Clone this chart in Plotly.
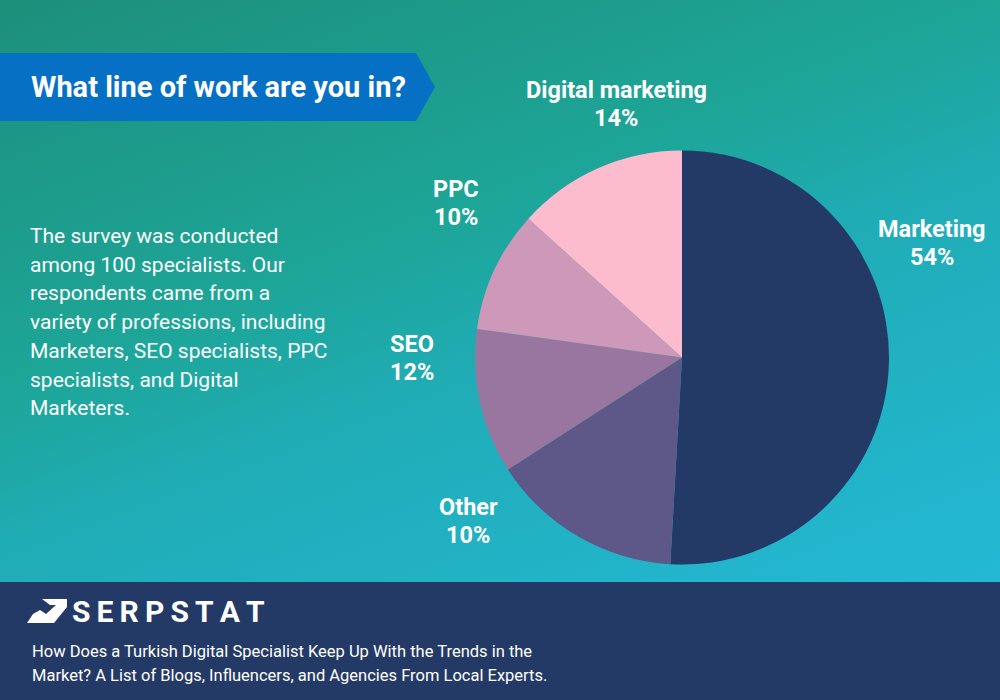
import base64
import plotly.graph_objects as go

# ---- data ----
categories = ["Marketing", "Other", "SEO", "PPC", "Digital marketing"]
slice_sizes = [50.9, 15.0, 11.3, 9.5, 13.3]          # drawn slice sizes (as measured)
label_pcts = ["54%", "10%", "12%", "10%", "14%"]      # printed percentages
slice_colors = ["#243A66", "#5E5888", "#98769F", "#CE98B8", "#FDBCCE"]

title_text = "What line of work are you in?"
body_lines = [
    "The survey was conducted",
    "among 100 specialists. Our",
    "respondents came from a",
    "variety of professions, including",
    "Marketers, SEO specialists, PPC",
    "specialists, and Digital",
    "Marketers.",
]
footer_lines = [
    "How Does a Turkish Digital Specialist Keep Up With the Trends in the",
    "Market? A List of Blogs, Influencers, and Agencies From Local Experts.",
]

W, H = 1000, 700

def px(x):
    return x / W

def py(y):
    return 1 - y / H

# gradient background as svg image
svg = f"""<svg xmlns='http://www.w3.org/2000/svg' width='{W}' height='{H}'>
<defs><linearGradient id='g' gradientUnits='userSpaceOnUse' x1='0' y1='0' x2='320' y2='835'>
<stop offset='0' stop-color='#1D8F7B'/>
<stop offset='0.4' stop-color='#1DA597'/>
<stop offset='0.6' stop-color='#20ADB8'/>
<stop offset='1' stop-color='#23B8D4'/>
</linearGradient></defs>
<rect width='{W}' height='{H}' fill='url(#g)'/></svg>"""
bg_src = "data:image/svg+xml;base64," + base64.b64encode(svg.encode()).decode()

fig = go.Figure()
fig.add_trace(go.Pie(
    labels=categories,
    values=slice_sizes,
    sort=False,
    direction="clockwise",
    rotation=0,
    marker=dict(colors=slice_colors, line=dict(width=0)),
    textinfo="none",
    hoverinfo="label",
    showlegend=False,
    domain=dict(x=[px(475), px(889)], y=[py(565), py(150)]),
))

shapes = []
# banner arrow
shapes.append(dict(type="path", xref="paper", yref="paper",
                   path=f"M 0 {py(53)} L {px(416)} {py(53)} L {px(435)} {py(87)} L {px(416)} {py(121)} L 0 {py(121)} Z",
                   fillcolor="#0670C5", line=dict(width=0), layer="below"))
# footer
shapes.append(dict(type="rect", xref="paper", yref="paper",
                   x0=0, x1=1, y0=0, y1=py(582),
                   fillcolor="#243A66", line=dict(width=0), layer="below"))
# logo icon
shapes.append(dict(type="path", xref="paper", yref="paper",
                   path=(f"M {px(42)} {py(599)} L {px(67)} {py(599)} L {px(67)} {py(607)} "
                         f"L {px(54)} {py(623)} L {px(27)} {py(623)} "
                         f"L {px(33)} {py(614)} L {px(40)} {py(610)} L {px(46)} {py(614)} L {px(56)} {py(605)} L {px(50)} {py(605)} Z"),
                   fillcolor="white", line=dict(width=0)))

annotations = []
annotations.append(dict(text=title_text, x=px(29), y=py(87), xref="paper", yref="paper",
                        xanchor="left", yanchor="middle", showarrow=False,
                        font=dict(family="Roboto", size=29, color="white", weight="bold")))
for i, line in enumerate(body_lines):
    annotations.append(dict(text=line, x=px(28), y=py(236 + i * 28.7), xref="paper", yref="paper",
                            xanchor="left", yanchor="middle", showarrow=False,
                            font=dict(family="Roboto", size=21, color="white")))

label_pos = {"Marketing": (932, 229), "Other": (468, 507), "SEO": (412, 344),
             "PPC": (456, 189), "Digital marketing": (616, 90)}
lab_font = dict(family="Roboto", size=23.5, color="white", weight="bold")
for cat, pct in zip(categories, label_pcts):
    x, y = label_pos[cat]
    annotations.append(dict(text=cat, x=px(x), y=py(y), xref="paper", yref="paper",
                            xanchor="center", yanchor="middle", showarrow=False, font=lab_font))
    annotations.append(dict(text=pct, x=px(x), y=py(y + 28), xref="paper", yref="paper",
                            xanchor="center", yanchor="middle", showarrow=False, font=lab_font))

annotations.append(dict(text="S\u2009E\u2009R\u2009P\u2009S\u2009T\u2009A\u2009T", x=px(70), y=py(611),
                        xref="paper", yref="paper", xanchor="left", yanchor="middle", showarrow=False,
                        font=dict(family="Roboto", size=30, color="white", weight="bold")))
for i, line in enumerate(footer_lines):
    annotations.append(dict(text=line, x=px(30), y=py(651 + i * 24), xref="paper", yref="paper",
                            xanchor="left", yanchor="middle", showarrow=False,
                            font=dict(family="Roboto", size=16.5, color="white")))

fig.update_layout(
    width=W, height=H,
    margin=dict(l=0, r=0, t=0, b=0),
    paper_bgcolor="#1FA39C",
    plot_bgcolor="rgba(0,0,0,0)",
    images=[dict(source=bg_src, xref="paper", yref="paper", x=0, y=1,
                 sizex=1, sizey=1, xanchor="left", yanchor="top",
                 sizing="stretch", layer="below")],
    shapes=shapes,
    annotations=annotations,
)

fig.write_html("out.html")
